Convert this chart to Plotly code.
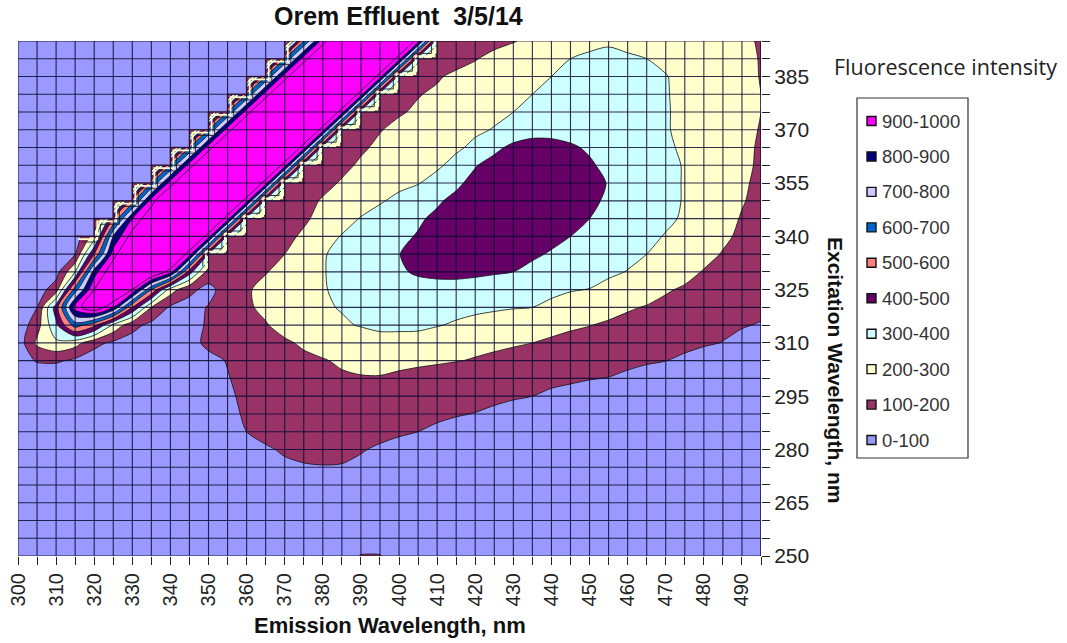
import plotly.graph_objects as go

emission = list(range(300, 500, 5))
excitation = list(range(250, 400, 5))

intensity = [
 [5,5,5,5,5,5,5,5,5,5, 5,8,10,12,15,20,30,50,105,105, 50,30,25,20,20,18,18,15,15,15, 12,12,10,10,10,10,8,8,8,8],
 [5,5,5,5,5,5,5,6,6,8, 10,12,15,18,22,28,35,40,42,40, 35,30,28,25,22,20,18,16,15,15, 14,14,12,12,10,10,10,8,8,8],
 [5,5,5,5,6,6,6,8,8,10, 12,15,20,25,32,40,48,52,50,45, 40,35,30,28,25,22,20,18,18,16, 15,15,14,14,12,12,10,10,10,10],
 [5,5,5,6,6,8,8,10,10,12, 16,20,28,38,48,58,65,66,62,55, 48,42,36,32,28,25,22,20,20,18, 18,16,15,15,14,14,12,12,12,10],
 [5,5,6,6,8,8,10,10,12,15, 20,28,40,55,68,76,82,82,75,66, 58,50,42,38,34,30,28,25,22,20, 20,18,18,16,16,15,15,14,12,12],
 [6,6,6,8,8,10,10,12,15,20, 28,40,56,72,85,92,96,95,85,76, 66,58,50,44,40,36,32,28,26,25, 22,22,20,20,18,18,16,16,15,15],
 [6,6,8,8,10,10,12,15,20,25, 35,45,65,90,110,125,128,120,105,90, 75,65,58,50,45,40,38,35,32,30, 28,26,25,24,22,20,20,18,18,16],
 [6,8,8,10,10,12,15,20,25,32, 45,70,100,125,140,150,150,145,130,120, 110,100,85,75,65,55,50,45,42,38, 35,32,30,28,26,24,22,22,20,20],
 [8,8,10,10,12,15,18,22,25,30, 50,80,110,140,155,165,170,165,155,145, 135,125,115,105,98,88,78,68,60,55, 50,46,42,38,34,30,28,26,24,22],
 [8,10,10,12,14,16,18,22,25,35, 55,85,120,150,170,180,185,185,180,170, 160,150,140,130,122,113,106,100,88,78, 68,60,52,46,42,38,34,30,28,26],
 [10,12,12,14,15,18,20,25,30,40, 60,95,130,155,170,180,185,190,195,195, 185,175,165,155,148,140,130,122,115,110, 103,98,85,72,60,52,46,40,35,32],
 [40,110,115,80,45,30,25,25,35,50, 75,105,135,155,170,185,195,210,220,225, 220,215,210,203,195,185,175,165,155,145, 135,125,117,108,101,85,70,60,50,45],
 [40,220,280,240,130,80,60,40,35,70, 120,135,150,170,190,210,230,240,255,265, 265,260,245,230,220,215,208,200,190,180, 170,160,150,140,130,120,108,98,80,65],
 [30,160,380,650,530,280,130,75,60,70, 110,145,170,195,225,255,275,290,305,320, 320,320,305,290,275,260,245,230,220,210, 202,190,178,165,150,140,125,115,105,95],
 [20,100,450,950,1100,900,500,200,85,70, 105,145,190,215,240,265,290,305,320,330, 335,335,330,325,318,312,305,300,285,265, 245,225,208,195,180,165,150,140,130,118],
 [15,50,150,650,1000,1200,1000,600,250,120, 75,140,190,225,255,275,295,315,335,350, 360,370,370,365,355,345,335,325,315,305, 298,275,255,235,208,190,175,160,150,135],
 [10,25,60,300,850,1100,1200,1150,950,450, 150,140,165,195,230,265,295,325,350,370, 390,410,420,425,420,410,400,380,365,345, 330,315,297,275,250,225,195,180,165,150],
 [10,15,25,100,500,950,1200,1200,1200,950, 400,150,150,170,200,245,290,335,365,385, 398,425,445,455,455,445,430,412,393,375, 360,340,320,300,280,255,225,195,175,160],
 [10,10,15,30,250,800,1050,1200,1200,1200, 950,380,150,140,175,215,265,305,340,365, 385,405,430,450,465,470,465,445,420,400, 380,360,340,320,295,270,245,215,185,165],
 [10,10,10,15,60,500,900,1100,1200,1200, 1200,950,370,150,150,185,230,265,305,340, 370,390,415,440,460,475,480,470,450,425, 400,380,360,340,315,290,260,225,195,170],
 [10,10,10,15,20,70,550,950,1200,1200, 1200,1200,950,360,140,165,210,235,260,290, 325,355,390,420,450,470,480,485,475,455, 420,385,360,340,320,295,270,240,205,180],
 [10,10,10,15,15,20,40,600,950,1200, 1200,1200,1200,950,350,135,170,210,235,255, 275,295,335,385,425,455,475,485,480,460, 430,395,370,345,320,295,270,240,210,185],
 [10,10,10,10,15,15,20,40,600,950, 1200,1200,1200,1200,950,350,135,175,215,235, 255,270,285,330,395,430,455,465,455,435, 410,380,360,340,320,295,270,245,215,190],
 [10,10,10,10,10,15,15,20,40,600, 950,1200,1200,1200,1200,950,350,130,185,220, 240,255,270,285,320,380,420,430,425,410, 390,370,350,330,310,290,265,245,220,190],
 [10,10,10,10,10,10,15,15,20,40, 600,950,1200,1200,1200,1200,950,350,140,195, 225,240,255,270,285,305,345,372,375,370, 360,350,335,320,305,285,265,245,225,195],
 [10,10,10,10,10,10,15,15,15,20, 40,600,950,1200,1200,1200,1200,950,350,130, 190,215,230,245,260,280,300,330,345,350, 345,335,325,315,305,285,265,245,225,200],
 [10,10,10,10,10,10,10,15,15,15, 20,40,600,950,1200,1200,1200,1200,950,350, 135,195,215,230,245,260,280,300,320,330, 330,325,320,315,305,280,260,240,220,200],
 [10,10,10,10,10,10,10,10,15,15, 15,20,40,600,950,1200,1200,1200,1200,950, 350,140,190,220,235,250,265,285,300,320, 325,325,320,315,303,280,255,235,215,198],
 [10,10,10,10,10,10,10,10,10,15, 15,15,20,40,600,950,1200,1200,1200,1200, 950,350,130,165,195,225,245,265,285,300, 310,310,305,300,285,265,245,225,210,198],
 [10,10,10,10,10,10,10,10,10,10, 15,15,15,20,40,600,950,1200,1200,1200, 1200,950,350,125,150,175,195,220,245,265, 285,295,290,280,265,245,230,220,210,195],
]

band_labels = ["900-1000", "800-900", "700-800", "600-700", "500-600",
               "400-500", "300-400", "200-300", "100-200", "0-100"]
band_colors = ["#FF00FF", "#000080", "#CCCCFF", "#0066CC", "#FF8080",
               "#660066", "#CCFFFF", "#FFFFCC", "#993366", "#9999FF"]

W, H = 1067, 643
L, R, T, B = 18, 761, 41, 556

# plotly samples a filled contour colorscale at 0, 0.1, ... 1, so step midway
edges = [0, 0.05, 0.15, 0.25, 0.35, 0.45, 0.55, 0.65, 0.75, 0.85, 1]
scale = []
for i, c in enumerate(reversed(band_colors)):
    scale += [[edges[i], c], [edges[i + 1], c]]

fig = go.Figure()
fig.add_trace(go.Contour(
    x=emission, y=excitation, z=intensity,
    zmin=0, zmax=1000, zauto=False, colorscale=scale, showscale=False,
    autocontour=False,
    contours=dict(start=100, end=1000, size=100, coloring="fill"),
    line=dict(color="#111111", width=0.8, smoothing=0.8),
    hoverinfo="skip",
))

# The Rayleigh ridge steps from cell to cell: find its staircase in the table.
def band_color(v):
    return band_colors[9 - min(int(v // 100), 9)]

upper, lower = [], []
for r, row in enumerate(intensity):
    if excitation[r] < 330:
        continue
    first = next(j for j, v in enumerate(row) if v >= 100)
    peak = next(j for j, v in enumerate(row) if v >= 1000)
    last = next(j for j in range(peak, len(row)) if row[j] < 200)
    if excitation[r] >= 340:
        upper.append((emission[first - 1], excitation[r], row[first - 1]))
    lower.append((emission[last], excitation[r], row[last]))

notches = {}
for a, b in zip(upper, upper[1:]):
    nx, ny = notches.setdefault(band_color(a[2]), ([], []))
    nx += [a[0], b[0], b[0], a[0], None]
    ny += [a[1], a[1], b[1], a[1], None]
for a, b in zip(lower, lower[1:]):
    nx, ny = notches.setdefault(band_color(a[2]), ([], []))
    nx += [a[0], a[0], b[0], a[0], None]
    ny += [a[1], b[1], b[1], a[1], None]
for color, (nx, ny) in notches.items():
    fig.add_trace(go.Scatter(x=nx, y=ny, mode="lines", fill="toself",
                             fillcolor=color, line=dict(width=0),
                             showlegend=False, hoverinfo="skip"))

def stair(points, shape, off, color, width):
    fig.add_trace(go.Scatter(
        x=[p[0] + off for p in points], y=[p[1] - off for p in points],
        mode="lines", line=dict(color=color, width=width, shape=shape),
        showlegend=False, hoverinfo="skip"))

for off, color, width in [(0, "#7a3a5c", 1.6), (0.8, "#FFFFCC", 1.8), (1.6, "#222222", 0.9)]:
    stair(upper, "hv", off, color, width)
for off, color, width in [(0, "#222222", 0.9), (-0.7, "#FFFFCC", 1.8), (-1.5, "#222222", 0.9)]:
    stair(lower, "vh", off, color, width)

grid_x, grid_y = [], []
for v in emission + [emission[-1]]:
    grid_x += [v, v, None]
    grid_y += [excitation[0], excitation[-1], None]
for v in excitation:
    grid_x += [emission[0], emission[-1], None]
    grid_y += [v, v, None]
fig.add_trace(go.Scatter(x=grid_x, y=grid_y, mode="lines",
                         line=dict(color="rgba(10,10,50,0.85)", width=1.1),
                         showlegend=False, hoverinfo="skip", cliponaxis=False))

arial = "Liberation Sans, Arial, sans-serif"
shapes, annotations = [], []
def px(x): return (x - L) / (R - L)
def py(y): return (B - y) / (B - T)

shapes.append(dict(type="rect", xref="paper", yref="paper",
                   x0=px(857), x1=px(968), y0=py(98), y1=py(458),
                   line=dict(color="#333333", width=1.2), fillcolor="white", layer="above"))
for i, (lab, col) in enumerate(zip(band_labels, band_colors)):
    yc = 121 + i * 35.45
    shapes.append(dict(type="rect", xref="paper", yref="paper",
                       x0=px(867), x1=px(876), y0=py(yc - 4.5), y1=py(yc + 4.5),
                       line=dict(color="#111111", width=1.4), fillcolor=col, layer="above"))
    annotations.append(dict(x=px(880), y=py(yc), xref="paper", yref="paper",
                            text=lab, showarrow=False, xanchor="left", yanchor="middle",
                            font=dict(family=arial, size=18.5, color="#333333")))

annotations += [
    dict(x=px(398), y=py(16), xref="paper", yref="paper", text="<b>Orem Effluent  3/5/14</b>",
         showarrow=False, xanchor="center", yanchor="middle",
         font=dict(family=arial, size=25, color="#111111")),
    dict(x=px(390), y=py(625), xref="paper", yref="paper", text="<b>Emission Wavelength, nm</b>",
         showarrow=False, xanchor="center", yanchor="middle",
         font=dict(family=arial, size=22, color="#111111")),
    dict(x=px(836), y=py(370), xref="paper", yref="paper", text="<b>Excitation Wavelength, nm</b>",
         showarrow=False, xanchor="center", yanchor="middle", textangle=90,
         font=dict(family=arial, size=21, color="#111111")),
    dict(x=px(945), y=py(67), xref="paper", yref="paper", text="Fluorescence intensity",
         showarrow=False, xanchor="center", yanchor="middle",
         font=dict(family="Open Sans, sans-serif", size=21.5, color="#222222")),
]

fig.update_layout(
    width=W, height=H, margin=dict(l=L, r=W - R, t=T, b=H - B, autoexpand=False),
    paper_bgcolor="white", plot_bgcolor="white", showlegend=False,
    shapes=shapes, annotations=annotations,
    xaxis=dict(range=[300, 495], tick0=300, dtick=10, tickangle=-90, ticks="outside",
               ticklen=8, tickcolor="#222222", showgrid=False, zeroline=False, automargin=False,
               tickfont=dict(family=arial, size=20, color="#222222"),
               minor=dict(tick0=300, dtick=5, ticks="outside", ticklen=8, tickcolor="#222222", showgrid=False)),
    yaxis=dict(range=[250, 395], side="right", tick0=250, dtick=15, ticks="outside",
               ticklen=8, tickcolor="#222222", showgrid=False, zeroline=False, automargin=False,
               tickfont=dict(family=arial, size=21, color="#222222"),
               minor=dict(tick0=250, dtick=5, ticks="outside", ticklen=8, tickcolor="#222222", showgrid=False)),
)

fig.write_html("out.html", config=dict(displayModeBar=False),
               post_script="document.body.style.margin='0';")
